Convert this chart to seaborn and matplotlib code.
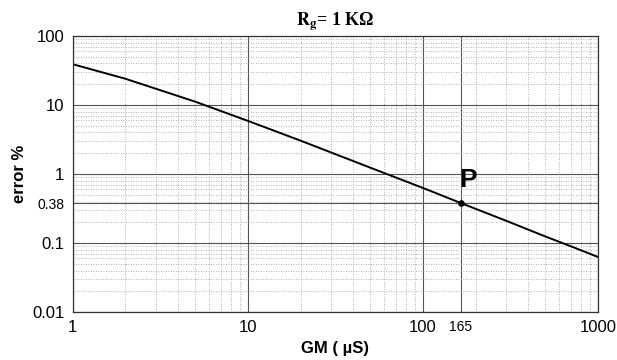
import matplotlib
matplotlib.use("Agg")
import matplotlib.pyplot as plt
import seaborn as sns
import pandas as pd
from matplotlib.ticker import FixedLocator, NullFormatter, LogLocator

# values
gm = [1, 2, 5, 10, 20, 50, 100, 165, 300, 500, 700, 1000]
error_pct = [39, 24, 11.2, 5.9, 3.05, 1.24, 0.63, 0.38, 0.21, 0.125, 0.09, 0.063]
point_gm = [165]
point_err = [0.38]
x_ticks = [1, 10, 100, 165, 1000]
x_labels = ["1", "10", "100", "165", "1000"]
y_ticks = [0.01, 0.1, 0.38, 1, 10, 100]
y_labels = ["0.01", "0.1", "0.38", "1", "10", "100"]

df = pd.DataFrame({"GM": gm, "error": error_pct})

sns.set_style("white")
plt.rcParams["font.family"] = ["Liberation Sans", "DejaVu Sans"]
plt.rcParams["mathtext.fontset"] = "stix"
plt.rcParams["text.color"] = "black"
plt.rcParams["axes.labelcolor"] = "black"
plt.rcParams["xtick.color"] = "black"
plt.rcParams["ytick.color"] = "black"

fig = plt.figure(figsize=(6.17, 3.6), dpi=100)
ax = fig.add_axes([0.118, 0.133, 0.851, 0.767])

sns.lineplot(data=df, x="GM", y="error", color="black", linewidth=1.4, ax=ax)
ax.scatter(point_gm, point_err, color="black", s=14, zorder=5)
ax.text(point_gm[0] * 1.1, point_err[0] * 1.45, "P", fontsize=19, fontweight="bold",
        ha="center", va="bottom")

ax.set_xscale("log")
ax.set_yscale("log")
ax.set_xlim(1, 1000)
ax.set_ylim(0.01, 100)

ax.xaxis.set_major_locator(FixedLocator(x_ticks))
ax.xaxis.set_minor_locator(LogLocator(base=10, subs=range(2, 10)))
ax.xaxis.set_minor_formatter(NullFormatter())
ax.set_xticklabels(x_labels)
ax.yaxis.set_major_locator(FixedLocator(y_ticks))
ax.yaxis.set_minor_locator(LogLocator(base=10, subs=range(2, 10)))
ax.yaxis.set_minor_formatter(NullFormatter())
ax.set_yticklabels(y_labels)

for lbl in ax.get_xticklabels():
    lbl.set_fontsize(10 if lbl.get_text() == "165" else 12)
for lbl in ax.get_yticklabels():
    lbl.set_fontsize(10 if lbl.get_text() == "0.38" else 12)

ax.tick_params(axis="both", which="both", length=0, pad=6)
ax.grid(True, which="major", color="#555555", linewidth=0.8)
ax.grid(True, which="minor", color="#999999", linewidth=0.6, linestyle=(0, (1, 2)))

for s in ax.spines.values():
    s.set_color("#333333")
    s.set_linewidth(0.9)

ax.set_xlabel("GM ( \u00b5S)", fontsize=12, fontweight="bold", labelpad=4)
ax.set_ylabel("error %", fontsize=12, fontweight="bold", labelpad=4)
ax.set_title(r"$\mathbf{R_g}$" + "= 1 K\u03a9", fontsize=13, fontweight="bold",
             family=["Liberation Serif", "DejaVu Serif"], pad=8)

fig.savefig("out.png", dpi=100)
